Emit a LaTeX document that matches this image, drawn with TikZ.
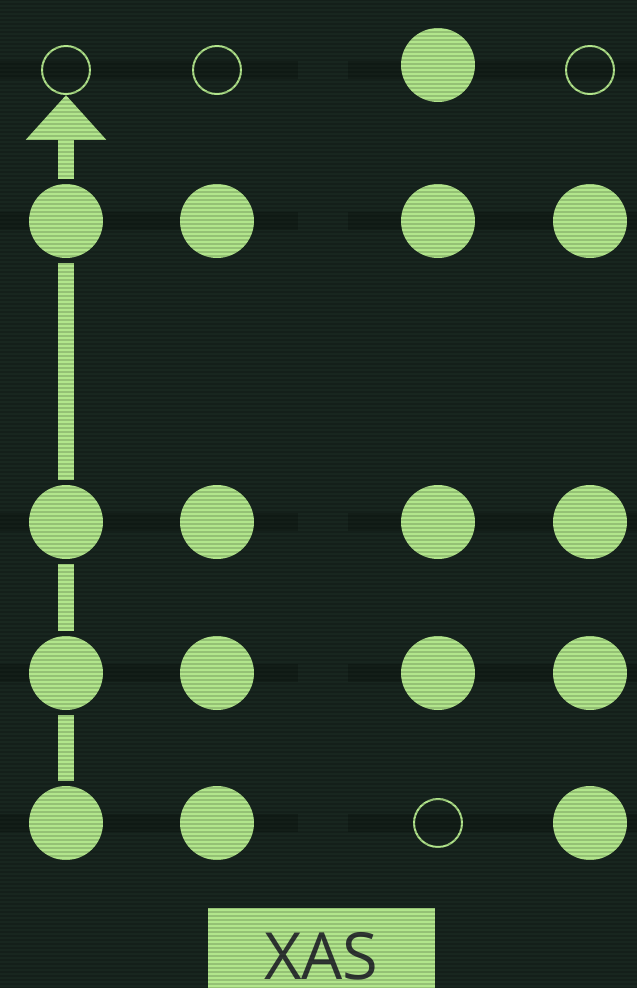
\documentclass[tikz,border=0pt]{standalone}
\usepackage{fontspec}
\setmainfont{Open Sans}
\usetikzlibrary{arrows.meta}
\definecolor{screen}{RGB}{24,38,31}
\definecolor{phosphor}{RGB}{178,230,140}
\definecolor{ink}{RGB}{48,54,52}
\begin{document}
\begin{tikzpicture}[x=0.02cm, y=-0.02cm,
    dot/.style={circle, fill=phosphor, minimum size=1.48cm, inner sep=0pt},
    ring/.style={circle, draw=phosphor, line width=0.04cm, minimum size=0.96cm, inner sep=0pt},
    band/.style={fill=black, opacity=0.2},
    track/.style={draw=phosphor, line width=0.32cm, shorten <=0.1cm, shorten >=0.1cm},
    tag/.style={text=ink, inner sep=0pt, anchor=base, font=\fontsize{37}{37}\selectfont}
]
    \useasboundingbox (0,0) rectangle (637,988);
    \clip (0,0) rectangle (637,988);
    \fill[screen] (0,0) rectangle (637,988);

    % dark bands behind each row
    \foreach \y in {70,221,522,673,823} {
        \fill[band] (0,\y-9) rectangle (298,\y+9);
        \fill[band] (348,\y-9) rectangle (637,\y+9);
    }

    % top row
    \node[ring] (t1) at (66,70) {};
    \node[ring] (t2) at (217,70) {};
    \node[dot]  (t3) at (438,65) {};
    \node[ring] (t4) at (590,70) {};

    % lower rows
    \node[dot] (d12) at (66,221) {};
    \node[dot] (d22) at (217,221) {};
    \node[dot] (d32) at (438,221) {};
    \node[dot] (d42) at (590,221) {};

    \node[dot] (d13) at (66,522) {};
    \node[dot] (d23) at (217,522) {};
    \node[dot] (d33) at (438,522) {};
    \node[dot] (d43) at (590,522) {};

    \node[dot] (d14) at (66,673) {};
    \node[dot] (d24) at (217,673) {};
    \node[dot] (d34) at (438,673) {};
    \node[dot] (d44) at (590,673) {};

    \node[dot]  (d15) at (66,823) {};
    \node[dot]  (d25) at (217,823) {};
    \node[ring] (d35) at (438,823) {};
    \node[dot]  (d45) at (590,823) {};

    % path up the first column
    \draw[track] (d15) -- (d14);
    \draw[track] (d14) -- (d13);
    \draw[track] (d13) -- (d12);
    \draw[track, shorten >=0pt, -{Triangle[width=1.56cm, length=0.9cm]}] (d12) -- (t1);

    % label plate, runs off the bottom edge
    \fill[phosphor] (208,908) rectangle (435,990);
    \node[tag] (xas) at (321.5,979) {XAS};

    % scanlines
    \foreach \y in {0,4,...,988}
        \draw[black, opacity=0.16, line width=0.04cm] (0,\y) -- (637,\y);
\end{tikzpicture}
\end{document}
